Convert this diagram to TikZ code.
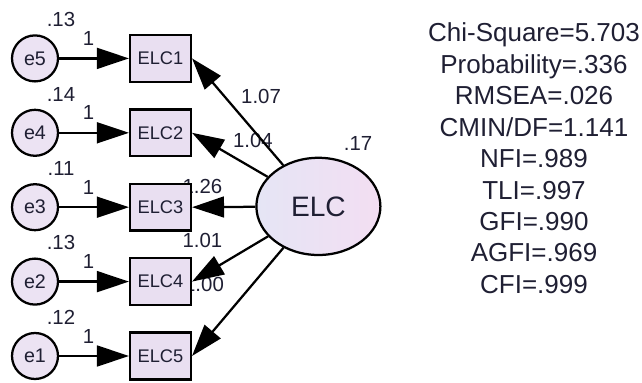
\documentclass[tikz,border=0pt]{standalone}
\usepackage{fontspec}
\setmainfont{Liberation Sans}
\usetikzlibrary{arrows.meta,positioning,shapes.geometric}
\definecolor{ink}{HTML}{1F1F33}
\definecolor{boxfill}{HTML}{E9DFF1}
\definecolor{errfill}{HTML}{ECE3F3}
\definecolor{latl}{HTML}{E5E5F5}
\definecolor{latr}{HTML}{F3DEF2}
\begin{document}
\begin{tikzpicture}[>={Triangle[length=8mm,width=5.2mm]}, line width=1.6pt, text=ink,
        enode/.style={circle, draw, minimum size=11.5mm, inner sep=0pt, fill=errfill, font=\fontsize{14}{16}\selectfont},
        obox/.style={rectangle, draw, minimum width=15.2mm, minimum height=11.7mm, inner sep=0pt, fill=boxfill, font=\fontsize{13}{15}\selectfont},
        lat/.style={ellipse, draw, minimum width=31mm, minimum height=24.3mm, inner sep=0pt, left color=latl, right color=latr, font=\fontsize{20}{24}\selectfont},
        num/.style={inner sep=0pt, font=\fontsize{14.5}{17}\selectfont},
        fitl/.style={anchor=base, inner sep=0pt, font=\fontsize{18.5}{22}\selectfont}]
        \useasboundingbox (0,0) rectangle (16.05,9.55);
        % ---- 载荷系数（先画，方框压在上面）----
        \node[num] (l1) at (6.525, 7.15) {1.07};
        \node[num] (l2) at (6.325, 6.05) {1.04};
        \node[num] (l3) at (5.06, 4.9)   {1.26};
        \node[num] (l4) at (5.06, 3.55)  {1.01};
        \node[num] (l5) at (5.1, 2.45)   {1.00};
        % ---- 观测变量与误差项 ----
        \foreach \i/\e/\v/\y in {1/5/.13/8.09, 2/4/.14/6.23, 3/3/.11/4.37, 4/2/.13/2.51, 5/1/.12/0.65} {
          \node[obox] (elc\i) at (4.0125, \y) {ELC\i};
          \node[enode] (e\e) at (0.875, \y) {e\e};
          \node[num] (v\e) at (1.525, \y+0.97) {\v};
          \draw[->] (e\e) -- (elc\i) node[num, pos=0.42, yshift=0.5cm] {1};
        }
        % ---- 潜变量 ----
        \node[lat] (elc) at (7.96, 4.39) {ELC};
        \node[num] (vl) at (8.95, 5.975) {.17};
        \foreach \i in {1,...,5}
          \draw[->] (elc) -- (elc\i.east);
        % ---- 拟合指标 ----
        \foreach \s [count=\k] in {Chi-Square=5.703, Probability=.336, RMSEA=.026, {CMIN/DF=1.141}, NFI=.989, TLI=.997, GFI=.990, AGFI=.969, CFI=.999}
          \node[fitl] (fit\k) at (13.35, {8.5-0.785*(\k-1)}) {\s};
    \end{tikzpicture}
\end{document}
